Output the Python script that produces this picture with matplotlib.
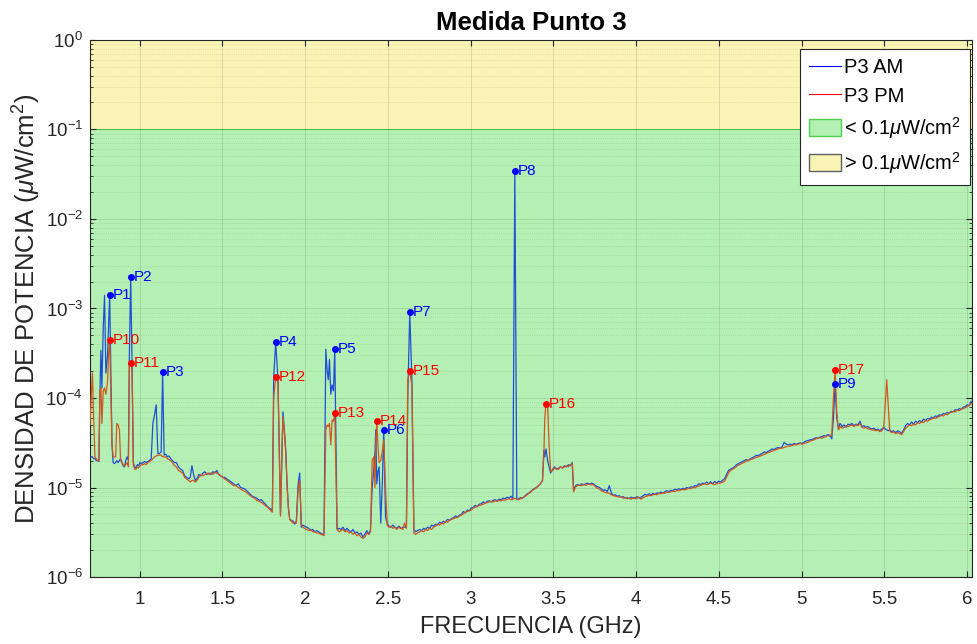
import matplotlib
matplotlib.use("Agg")
import matplotlib.pyplot as plt
from matplotlib.lines import Line2D
from matplotlib.patches import Patch
from matplotlib.ticker import LogLocator, NullFormatter

plt.rcParams["font.family"] = ["Liberation Sans", "DejaVu Sans"]
plt.rcParams["mathtext.fontset"] = "custom"
plt.rcParams["mathtext.rm"] = "Liberation Sans"
plt.rcParams["mathtext.it"] = "Liberation Sans:italic"

# frequency grid (GHz) and power density (uW/cm2)
FREQ = [
    0.700, 0.707, 0.715, 0.722, 0.730, 0.738, 0.746, 0.754,
    0.760, 0.766, 0.772, 0.780, 0.788, 0.796, 0.806, 0.812,
    0.819, 0.826, 0.833, 0.840, 0.848, 0.855, 0.862, 0.870,
    0.878, 0.885, 0.893, 0.900, 0.908, 0.916, 0.924, 0.932,
    0.938, 0.946, 0.954, 0.962, 0.970, 0.978, 0.986, 0.994,
    1.002, 1.010, 1.020, 1.030, 1.040, 1.050, 1.060, 1.070,
    1.080, 1.090, 1.100, 1.110, 1.120, 1.130, 1.139, 1.148,
    1.158, 1.168, 1.178, 1.188, 1.198, 1.210, 1.222, 1.235,
    1.248, 1.260, 1.272, 1.284, 1.296, 1.306, 1.316, 1.326,
    1.336, 1.346, 1.358, 1.370, 1.382, 1.394, 1.406, 1.418,
    1.430, 1.442, 1.454, 1.466, 1.478, 1.490, 1.502, 1.514,
    1.526, 1.540, 1.554, 1.568, 1.582, 1.596, 1.610, 1.624,
    1.638, 1.652, 1.666, 1.680, 1.694, 1.708, 1.722, 1.736,
    1.750, 1.764, 1.778, 1.790, 1.802, 1.810, 1.822, 1.836,
    1.851, 1.866, 1.876, 1.883, 1.891, 1.899, 1.907, 1.917,
    1.927, 1.937, 1.947, 1.957, 1.967, 1.977, 1.987, 1.997,
    2.010, 2.022, 2.034, 2.046, 2.058, 2.070, 2.082, 2.094,
    2.106, 2.114, 2.125, 2.133, 2.140, 2.147, 2.155, 2.163,
    2.171, 2.179, 2.193, 2.205, 2.217, 2.229, 2.241, 2.253,
    2.265, 2.277, 2.289, 2.301, 2.313, 2.325, 2.337, 2.349,
    2.361, 2.373, 2.385, 2.395, 2.405, 2.415, 2.422, 2.427,
    2.433, 2.440, 2.447, 2.457, 2.467, 2.475, 2.486, 2.496,
    2.506, 2.518, 2.530, 2.542, 2.554, 2.566, 2.578, 2.590,
    2.600, 2.612, 2.620, 2.632, 2.645, 2.657, 2.667, 2.680,
    2.692, 2.704, 2.716, 2.728, 2.740, 2.752, 2.764, 2.776,
    2.788, 2.800, 2.812, 2.824, 2.836, 2.848, 2.860, 2.872,
    2.884, 2.896, 2.908, 2.920, 2.932, 2.944, 2.956, 2.968,
    2.980, 2.992, 3.004, 3.016, 3.028, 3.040, 3.052, 3.064,
    3.076, 3.088, 3.100, 3.112, 3.124, 3.136, 3.148, 3.160,
    3.172, 3.184, 3.196, 3.208, 3.220, 3.232, 3.244, 3.255,
    3.267, 3.279, 3.290, 3.302, 3.314, 3.326, 3.338, 3.350,
    3.362, 3.374, 3.386, 3.398, 3.410, 3.422, 3.434, 3.442,
    3.448, 3.455, 3.465, 3.474, 3.483, 3.495, 3.507, 3.519,
    3.531, 3.543, 3.555, 3.567, 3.579, 3.591, 3.603, 3.614,
    3.622, 3.634, 3.646, 3.658, 3.670, 3.682, 3.694, 3.706,
    3.718, 3.730, 3.742, 3.754, 3.766, 3.778, 3.790, 3.802,
    3.814, 3.826, 3.838, 3.850, 3.862, 3.874, 3.886, 3.898,
    3.910, 3.922, 3.934, 3.946, 3.958, 3.970, 3.982, 3.994,
    4.006, 4.018, 4.030, 4.042, 4.054, 4.066, 4.078, 4.090,
    4.102, 4.114, 4.126, 4.138, 4.150, 4.162, 4.174, 4.186,
    4.198, 4.210, 4.222, 4.234, 4.246, 4.258, 4.270, 4.282,
    4.294, 4.306, 4.318, 4.330, 4.342, 4.354, 4.366, 4.378,
    4.390, 4.402, 4.414, 4.426, 4.438, 4.450, 4.462, 4.474,
    4.486, 4.498, 4.510, 4.522, 4.534, 4.546, 4.558, 4.570,
    4.582, 4.594, 4.606, 4.618, 4.630, 4.642, 4.654, 4.666,
    4.678, 4.690, 4.702, 4.714, 4.726, 4.738, 4.750, 4.762,
    4.774, 4.786, 4.798, 4.810, 4.822, 4.834, 4.846, 4.858,
    4.870, 4.882, 4.894, 4.906, 4.918, 4.930, 4.942, 4.954,
    4.966, 4.978, 4.990, 5.002, 5.014, 5.026, 5.038, 5.050,
    5.062, 5.074, 5.086, 5.098, 5.110, 5.122, 5.134, 5.146,
    5.158, 5.170, 5.182, 5.192, 5.202, 5.212, 5.222, 5.232,
    5.244, 5.256, 5.268, 5.280, 5.292, 5.304, 5.316, 5.328,
    5.340, 5.352, 5.364, 5.376, 5.388, 5.400, 5.412, 5.424,
    5.436, 5.448, 5.460, 5.472, 5.484, 5.496, 5.506, 5.514,
    5.522, 5.532, 5.544, 5.556, 5.568, 5.580, 5.592, 5.604,
    5.616, 5.628, 5.640, 5.652, 5.664, 5.676, 5.688, 5.700,
    5.712, 5.724, 5.736, 5.748, 5.760, 5.772, 5.784, 5.796,
    5.808, 5.820, 5.832, 5.844, 5.856, 5.868, 5.880, 5.892,
    5.904, 5.916, 5.928, 5.940, 5.952, 5.964, 5.976, 5.988,
    6.000, 6.012, 6.024,
]

P3_AM = [
    2.3e-5, 2.2e-5, 2.2e-5, 2.1e-5, 2.1e-5, 2.0e-5, 2.0e-5, 1.95e-5,
    1.1e-4, 3.4e-4, 1.3e-4, 6.0e-4, 1.4e-3, 1.9e-4, 3.0e-4, 6.0e-4,
    1.42e-3, 2.0e-4, 3.0e-5, 1.9e-5, 1.85e-5, 1.9e-5, 2.0e-5, 1.9e-5,
    2.0e-5, 2.1e-5, 1.9e-5, 1.75e-5, 1.7e-5, 2.0e-5, 2.2e-5, 2.0e-5,
    3.0e-4, 2.25e-3, 2.6e-4, 1.9e-5, 1.7e-5, 1.65e-5, 1.8e-5, 1.75e-5,
    1.9e-5, 1.85e-5, 1.9e-5, 1.95e-5, 1.9e-5, 1.95e-5, 2.0e-5, 2.1e-5,
    5.2e-5, 6.5e-5, 8.4e-5, 2.4e-5, 2.4e-5, 2.5e-5, 1.95e-4, 2.3e-5,
    2.35e-5, 2.2e-5, 2.25e-5, 2.1e-5, 2.0e-5, 1.9e-5, 1.9e-5, 1.7e-5,
    1.6e-5, 1.55e-5, 1.35e-5, 1.3e-5, 1.25e-5, 1.3e-5, 1.75e-5, 1.4e-5,
    1.2e-5, 1.25e-5, 1.4e-5, 1.35e-5, 1.45e-5, 1.5e-5, 1.4e-5, 1.45e-5,
    1.4e-5, 1.5e-5, 1.45e-5, 1.55e-5, 1.4e-5, 1.35e-5, 1.3e-5, 1.3e-5,
    1.25e-5, 1.2e-5, 1.15e-5, 1.1e-5, 1.05e-5, 1.1e-5, 1.0e-5, 9.8e-6,
    9.6e-6, 9.0e-6, 8.5e-6, 8.0e-6, 7.8e-6, 7.6e-6, 7.2e-6, 7.3e-6,
    6.8e-6, 6.4e-6, 6.0e-6, 5.8e-6, 5.5e-6, 1.7e-4, 4.2e-4, 1.6e-4,
    5.0e-6, 7.0e-5, 4.0e-5, 2.6e-5, 1.1e-5, 6.0e-6, 4.4e-6, 4.3e-6,
    4.2e-6, 3.9e-6, 4.2e-6, 1.05e-5, 1.45e-5, 3.6e-6, 3.8e-6, 3.7e-6,
    3.6e-6, 3.5e-6, 3.3e-6, 3.4e-6, 3.2e-6, 3.3e-6, 3.2e-6, 3.1e-6,
    3.0e-6, 3.0e-6, 3.5e-4, 2.0e-4, 1.6e-4, 2.7e-4, 1.1e-4, 1.4e-4,
    1.2e-4, 3.52e-4, 3.4e-6, 3.5e-6, 3.4e-6, 3.6e-6, 3.3e-6, 3.5e-6,
    3.3e-6, 3.2e-6, 3.4e-6, 3.1e-6, 3.2e-6, 3.0e-6, 3.1e-6, 2.8e-6,
    3.0e-6, 3.3e-6, 3.0e-6, 3.4e-6, 1.0e-5, 1.6e-5, 2.5e-5, 4.4e-5,
    1.1e-5, 1.5e-5, 1.7e-5, 4.0e-6, 1.2e-5, 4.4e-5, 4.6e-6, 4.0e-6,
    3.7e-6, 3.6e-6, 3.8e-6, 3.6e-6, 3.5e-6, 3.7e-6, 3.5e-6, 3.6e-6,
    3.6e-6, 3.6e-6, 1.0e-4, 9.1e-4, 1.6e-4, 3.4e-6, 3.2e-6, 3.3e-6,
    3.4e-6, 3.3e-6, 3.5e-6, 3.4e-6, 3.6e-6, 3.5e-6, 3.8e-6, 3.7e-6,
    3.9e-6, 3.8e-6, 4.1e-6, 4.0e-6, 4.2e-6, 4.1e-6, 4.4e-6, 4.3e-6,
    4.5e-6, 4.6e-6, 4.8e-6, 4.7e-6, 4.9e-6, 5.0e-6, 5.4e-6, 5.2e-6,
    5.6e-6, 5.5e-6, 5.9e-6, 6.0e-6, 6.3e-6, 6.1e-6, 6.5e-6, 6.6e-6,
    6.9e-6, 6.7e-6, 7.0e-6, 7.1e-6, 6.9e-6, 7.2e-6, 7.3e-6, 7.1e-6,
    7.4e-6, 7.3e-6, 7.6e-6, 7.5e-6, 7.8e-6, 7.6e-6, 8.0e-6, 7.4e-6,
    3.44e-2, 7.3e-6, 7.5e-6, 7.7e-6, 7.6e-6, 8.0e-6, 8.4e-6, 8.6e-6,
    9.0e-6, 9.4e-6, 9.8e-6, 1.0e-5, 1.05e-5, 1.1e-5, 1.2e-5, 2.6e-5,
    2.2e-5, 2.7e-5, 2.0e-5, 1.7e-5, 1.45e-5, 1.6e-5, 1.7e-5, 1.6e-5,
    1.65e-5, 1.7e-5, 1.65e-5, 1.75e-5, 1.7e-5, 1.8e-5, 1.75e-5, 1.9e-5,
    9.2e-6, 1.05e-5, 1.08e-5, 1.05e-5, 1.1e-5, 1.07e-5, 1.1e-5, 1.12e-5,
    1.08e-5, 1.12e-5, 1.1e-5, 1.05e-5, 1.02e-5, 1.0e-5, 9.6e-6, 9.3e-6,
    9.4e-6, 9.0e-6, 1.05e-5, 8.7e-6, 8.2e-6, 8.3e-6, 8.0e-6, 8.1e-6,
    7.8e-6, 7.9e-6, 7.6e-6, 7.7e-6, 7.5e-6, 7.8e-6, 7.6e-6, 7.7e-6,
    7.9e-6, 7.6e-6, 7.8e-6, 8.1e-6, 8.4e-6, 8.2e-6, 8.5e-6, 8.3e-6,
    8.6e-6, 8.4e-6, 8.7e-6, 8.6e-6, 8.9e-6, 8.7e-6, 9.0e-6, 9.2e-6,
    9.0e-6, 9.3e-6, 9.2e-6, 9.6e-6, 9.4e-6, 9.7e-6, 9.5e-6, 9.8e-6,
    9.6e-6, 1.0e-5, 9.8e-6, 1.02e-5, 1.0e-5, 1.05e-5, 1.04e-5, 1.1e-5,
    1.08e-5, 1.12e-5, 1.1e-5, 1.15e-5, 1.1e-5, 1.16e-5, 1.1e-5, 1.17e-5,
    1.12e-5, 1.18e-5, 1.15e-5, 1.2e-5, 1.25e-5, 1.4e-5, 1.55e-5, 1.6e-5,
    1.65e-5, 1.7e-5, 1.8e-5, 1.85e-5, 1.9e-5, 1.95e-5, 2.0e-5, 2.05e-5,
    2.0e-5, 2.1e-5, 2.15e-5, 2.2e-5, 2.3e-5, 2.25e-5, 2.35e-5, 2.4e-5,
    2.5e-5, 2.45e-5, 2.55e-5, 2.6e-5, 2.7e-5, 2.65e-5, 2.75e-5, 2.8e-5,
    2.75e-5, 2.85e-5, 3.2e-5, 3.05e-5, 3.0e-5, 3.05e-5, 3.0e-5, 3.1e-5,
    3.05e-5, 3.1e-5, 3.15e-5, 3.1e-5, 3.2e-5, 3.3e-5, 3.35e-5, 3.4e-5,
    3.45e-5, 3.5e-5, 3.6e-5, 3.55e-5, 3.65e-5, 3.7e-5, 3.8e-5, 3.75e-5,
    3.9e-5, 3.85e-5, 3.5e-5, 6.0e-5, 1.43e-4, 6.0e-5, 4.6e-5, 5.2e-5,
    4.8e-5, 5.0e-5, 4.7e-5, 5.1e-5, 5.0e-5, 5.2e-5, 4.9e-5, 5.1e-5,
    5.0e-5, 5.5e-5, 4.8e-5, 4.9e-5, 4.7e-5, 4.8e-5, 4.6e-5, 4.5e-5,
    4.6e-5, 4.4e-5, 4.5e-5, 4.3e-5, 4.5e-5, 4.7e-5, 4.5e-5, 4.4e-5,
    4.3e-5, 4.4e-5, 4.2e-5, 4.3e-5, 4.1e-5, 4.3e-5, 4.2e-5, 4.0e-5,
    4.4e-5, 4.9e-5, 5.2e-5, 5.0e-5, 5.4e-5, 5.1e-5, 5.5e-5, 5.3e-5,
    5.6e-5, 5.4e-5, 5.8e-5, 5.6e-5, 5.9e-5, 5.8e-5, 6.1e-5, 6.0e-5,
    6.3e-5, 6.2e-5, 6.5e-5, 6.4e-5, 6.7e-5, 6.6e-5, 6.9e-5, 6.8e-5,
    7.1e-5, 7.0e-5, 7.4e-5, 7.3e-5, 7.6e-5, 7.5e-5, 7.9e-5, 8.0e-5,
    8.4e-5, 8.2e-5, 9.2e-5,
]

P3_PM = [
    5.0e-5, 1.0e-4, 1.9e-4, 6.0e-5, 2.2e-5, 2.1e-5, 2.0e-5, 2.0e-5,
    1.2e-4, 1.3e-4, 5.2e-5, 1.2e-4, 1.3e-4, 1.1e-4, 1.5e-4, 3.0e-4,
    4.45e-4, 1.2e-4, 3.0e-5, 2.2e-5, 2.2e-5, 2.2e-5, 5.2e-5, 5.0e-5,
    4.4e-5, 2.0e-5, 1.9e-5, 1.8e-5, 1.75e-5, 1.8e-5, 1.9e-5, 1.7e-5,
    2.3e-4, 2.46e-4, 2.0e-4, 1.8e-5, 1.6e-5, 1.6e-5, 1.7e-5, 1.65e-5,
    1.75e-5, 1.8e-5, 1.8e-5, 1.85e-5, 1.8e-5, 1.9e-5, 1.95e-5, 2.0e-5,
    2.1e-5, 2.2e-5, 2.25e-5, 2.3e-5, 2.3e-5, 2.3e-5, 2.2e-5, 2.2e-5,
    2.2e-5, 2.1e-5, 2.05e-5, 2.0e-5, 1.9e-5, 1.75e-5, 1.7e-5, 1.55e-5,
    1.5e-5, 1.45e-5, 1.3e-5, 1.25e-5, 1.2e-5, 1.15e-5, 1.2e-5, 1.2e-5,
    1.15e-5, 1.2e-5, 1.3e-5, 1.4e-5, 1.35e-5, 1.4e-5, 1.45e-5, 1.4e-5,
    1.45e-5, 1.4e-5, 1.5e-5, 1.45e-5, 1.4e-5, 1.35e-5, 1.3e-5, 1.25e-5,
    1.2e-5, 1.15e-5, 1.1e-5, 1.05e-5, 1.05e-5, 1.0e-5, 9.6e-6, 9.3e-6,
    9.0e-6, 8.6e-6, 8.2e-6, 7.8e-6, 7.6e-6, 7.2e-6, 7.0e-6, 6.8e-6,
    6.5e-6, 6.2e-6, 5.9e-6, 5.6e-6, 5.3e-6, 1.0e-4, 1.72e-4, 1.5e-4,
    4.8e-6, 6.2e-5, 3.8e-5, 2.4e-5, 1.0e-5, 5.8e-6, 4.4e-6, 4.2e-6,
    4.0e-6, 4.1e-6, 4.0e-6, 9.0e-6, 1.2e-5, 3.8e-6, 3.6e-6, 3.5e-6,
    3.4e-6, 3.3e-6, 3.4e-6, 3.2e-6, 3.2e-6, 3.1e-6, 3.1e-6, 3.0e-6,
    2.95e-6, 2.9e-6, 4.4e-5, 5.0e-5, 4.8e-5, 5.2e-5, 3.0e-5, 5.7e-5,
    5.5e-5, 6.8e-5, 3.4e-6, 3.2e-6, 3.3e-6, 3.4e-6, 3.2e-6, 3.3e-6,
    3.1e-6, 3.2e-6, 3.0e-6, 3.1e-6, 2.9e-6, 3.0e-6, 2.8e-6, 2.7e-6,
    2.8e-6, 3.1e-6, 3.0e-6, 3.2e-6, 2.0e-5, 2.2e-5, 1.0e-5, 3.0e-5,
    5.5e-5, 3.0e-5, 1.9e-5, 2.0e-5, 2.6e-5, 3.4e-5, 9.5e-6, 3.8e-6,
    3.6e-6, 3.7e-6, 3.5e-6, 3.6e-6, 3.4e-6, 3.6e-6, 3.5e-6, 3.4e-6,
    4.0e-6, 3.5e-6, 1.6e-4, 2.0e-4, 1.35e-4, 3.1e-6, 3.0e-6, 3.1e-6,
    3.2e-6, 3.3e-6, 3.2e-6, 3.4e-6, 3.3e-6, 3.5e-6, 3.4e-6, 3.6e-6,
    3.7e-6, 3.9e-6, 3.8e-6, 4.0e-6, 3.9e-6, 4.2e-6, 4.1e-6, 4.3e-6,
    4.4e-6, 4.5e-6, 4.6e-6, 4.6e-6, 4.8e-6, 4.9e-6, 5.1e-6, 5.3e-6,
    5.4e-6, 5.5e-6, 5.6e-6, 5.9e-6, 6.0e-6, 6.2e-6, 6.3e-6, 6.4e-6,
    6.5e-6, 6.7e-6, 6.8e-6, 6.9e-6, 7.0e-6, 6.9e-6, 7.1e-6, 7.0e-6,
    7.2e-6, 7.1e-6, 7.3e-6, 7.2e-6, 7.4e-6, 7.5e-6, 7.3e-6, 7.4e-6,
    7.6e-6, 7.4e-6, 7.3e-6, 7.5e-6, 7.7e-6, 7.9e-6, 8.2e-6, 8.6e-6,
    8.8e-6, 9.3e-6, 9.6e-6, 1.0e-5, 1.05e-5, 1.1e-5, 1.2e-5, 2.2e-5,
    6.0e-5, 8.6e-5, 8.4e-5, 3.0e-5, 1.5e-5, 1.55e-5, 1.65e-5, 1.6e-5,
    1.6e-5, 1.7e-5, 1.65e-5, 1.7e-5, 1.75e-5, 1.7e-5, 1.8e-5, 1.85e-5,
    9.0e-6, 1.02e-5, 1.05e-5, 1.06e-5, 1.05e-5, 1.08e-5, 1.06e-5, 1.08e-5,
    1.1e-5, 1.07e-5, 1.08e-5, 1.02e-5, 9.8e-6, 9.6e-6, 9.2e-6, 9.0e-6,
    8.8e-6, 8.7e-6, 8.6e-6, 8.3e-6, 8.1e-6, 8.0e-6, 7.9e-6, 7.8e-6,
    7.9e-6, 7.6e-6, 7.7e-6, 7.5e-6, 7.6e-6, 7.4e-6, 7.7e-6, 7.5e-6,
    7.6e-6, 7.8e-6, 7.4e-6, 7.7e-6, 7.9e-6, 8.0e-6, 8.2e-6, 8.1e-6,
    8.3e-6, 8.4e-6, 8.3e-6, 8.6e-6, 8.5e-6, 8.7e-6, 8.6e-6, 8.9e-6,
    8.8e-6, 9.0e-6, 9.1e-6, 9.0e-6, 9.3e-6, 9.2e-6, 9.4e-6, 9.5e-6,
    9.4e-6, 9.6e-6, 9.8e-6, 9.7e-6, 1.0e-5, 9.9e-6, 1.02e-5, 1.04e-5,
    1.06e-5, 1.08e-5, 1.1e-5, 1.08e-5, 1.1e-5, 1.12e-5, 1.1e-5, 1.08e-5,
    1.1e-5, 1.12e-5, 1.12e-5, 1.14e-5, 1.18e-5, 1.3e-5, 1.45e-5, 1.55e-5,
    1.6e-5, 1.65e-5, 1.72e-5, 1.78e-5, 1.82e-5, 1.88e-5, 1.92e-5, 1.98e-5,
    2.0e-5, 2.05e-5, 2.08e-5, 2.12e-5, 2.18e-5, 2.2e-5, 2.25e-5, 2.3e-5,
    2.35e-5, 2.4e-5, 2.45e-5, 2.5e-5, 2.55e-5, 2.6e-5, 2.65e-5, 2.7e-5,
    2.75e-5, 2.75e-5, 2.8e-5, 2.85e-5, 2.9e-5, 2.9e-5, 2.95e-5, 3.0e-5,
    3.0e-5, 3.05e-5, 3.1e-5, 3.05e-5, 3.1e-5, 3.15e-5, 3.2e-5, 3.3e-5,
    3.35e-5, 3.4e-5, 3.5e-5, 3.55e-5, 3.6e-5, 3.55e-5, 3.65e-5, 3.7e-5,
    3.8e-5, 3.75e-5, 3.9e-5, 1.0e-4, 2.06e-4, 7.0e-5, 4.4e-5, 4.8e-5,
    4.6e-5, 4.7e-5, 4.9e-5, 4.8e-5, 4.9e-5, 5.0e-5, 4.8e-5, 5.0e-5,
    4.9e-5, 5.2e-5, 4.7e-5, 4.6e-5, 4.7e-5, 4.5e-5, 4.5e-5, 4.4e-5,
    4.4e-5, 4.3e-5, 4.4e-5, 4.2e-5, 4.3e-5, 4.6e-5, 9.0e-5, 1.6e-4,
    9.0e-5, 4.3e-5, 4.1e-5, 4.2e-5, 4.0e-5, 4.1e-5, 4.0e-5, 3.9e-5,
    4.2e-5, 4.6e-5, 4.8e-5, 5.0e-5, 4.9e-5, 5.1e-5, 5.0e-5, 5.3e-5,
    5.2e-5, 5.4e-5, 5.3e-5, 5.6e-5, 5.5e-5, 5.7e-5, 5.8e-5, 6.0e-5,
    5.9e-5, 6.1e-5, 6.2e-5, 6.4e-5, 6.3e-5, 6.6e-5, 6.5e-5, 6.8e-5,
    6.9e-5, 7.1e-5, 7.0e-5, 7.3e-5, 7.2e-5, 7.5e-5, 7.6e-5, 7.8e-5,
    8.0e-5, 8.3e-5, 8.6e-5,
]

# labelled peaks
AM_PEAK_NAMES = ["P1", "P2", "P3", "P4", "P5", "P6", "P7", "P8", "P9"]
AM_PEAK_FREQ = [0.819, 0.946, 1.139, 1.822, 2.179, 2.475, 2.632, 3.267, 5.202]
AM_PEAK_VAL = [1.42e-3, 2.25e-3, 1.95e-4, 4.2e-4, 3.52e-4, 4.4e-5, 9.1e-4, 3.44e-2, 1.43e-4]

PM_PEAK_NAMES = ["P10", "P11", "P12", "P13", "P14", "P15", "P16", "P17"]
PM_PEAK_FREQ = [0.819, 0.946, 1.822, 2.179, 2.433, 2.632, 3.455, 5.202]
PM_PEAK_VAL = [4.45e-4, 2.46e-4, 1.72e-4, 6.8e-5, 5.5e-5, 2.0e-4, 8.6e-5, 2.06e-4]

LIMIT = 0.1  # uW/cm2
Y_MIN, Y_MAX = 1e-6, 1e0

fig = plt.figure(figsize=(9.78, 6.44), dpi=100)
ax = fig.add_axes([0.092, 0.104, 0.902, 0.834])

ax.axhspan(Y_MIN, LIMIT, facecolor="#b4f0b4", edgecolor="#4fd04f", lw=0.8, zorder=0)
ax.axhspan(LIMIT, Y_MAX, facecolor="#f8f4b4", edgecolor="none", zorder=0)

ax.plot(FREQ, P3_AM, color="#1f4fd6", lw=0.9, zorder=2)
ax.plot(FREQ, P3_PM, color="#d2561c", lw=0.9, zorder=3)

ax.plot(AM_PEAK_FREQ, AM_PEAK_VAL, "o", color="#0000ff", ms=4, zorder=4)
ax.plot(PM_PEAK_FREQ, PM_PEAK_VAL, "o", color="#ff0000", ms=4, zorder=4)
for name, f, v in zip(AM_PEAK_NAMES, AM_PEAK_FREQ, AM_PEAK_VAL):
    ax.annotate(name, (f, v), xytext=(2, 0), textcoords="offset points",
                va="center", ha="left", color="#0000ff", fontsize=11, zorder=5)
for name, f, v in zip(PM_PEAK_NAMES, PM_PEAK_FREQ, PM_PEAK_VAL):
    ax.annotate(name, (f, v), xytext=(2, 0), textcoords="offset points",
                va="center", ha="left", color="#ff0000", fontsize=11, zorder=5)

ax.set_yscale("log")
ax.set_xlim(0.7, 6.03)
ax.set_ylim(Y_MIN, Y_MAX)
ax.set_xticks([1, 1.5, 2, 2.5, 3, 3.5, 4, 4.5, 5, 5.5, 6])
ax.set_xticklabels(["1", "1.5", "2", "2.5", "3", "3.5", "4", "4.5", "5", "5.5", "6"])
ax.yaxis.set_major_locator(LogLocator(base=10, numticks=10))
ax.yaxis.set_minor_locator(LogLocator(base=10, subs=range(2, 10), numticks=100))
ax.yaxis.set_minor_formatter(NullFormatter())

ax.grid(True, which="major", color="#262626", alpha=0.15, lw=0.6)
ax.grid(True, which="minor", axis="y", color="#262626", alpha=0.15, lw=0.6, ls=":")
ax.tick_params(which="both", direction="in", top=True, right=True, colors="#262626",
               labelsize=13.5, labelcolor="#262626")
ax.tick_params(which="major", length=4)
ax.tick_params(which="minor", length=2)
ax.tick_params(axis="x", pad=10)
ax.tick_params(axis="y", pad=5)
for s in ax.spines.values():
    s.set_color("#262626")
    s.set_linewidth(0.8)

ax.set_title("Medida Punto 3", fontsize=18.5, fontweight="bold", pad=7)
ax.set_xlabel("FRECUENCIA (GHz)", fontsize=17, color="#262626", labelpad=6)
ax.set_ylabel(r"DENSIDAD DE POTENCIA ($\mu$W/cm$^2$)", fontsize=18.5, color="#262626",
              labelpad=2)

handles = [
    Line2D([], [], color="#0000ff", lw=0.8),
    Line2D([], [], color="#ff0000", lw=0.8),
    Patch(facecolor="#b4f0b4", edgecolor="#4fd04f"),
    Patch(facecolor="#f8f4b4", edgecolor="#606060"),
]
labels = ["P3 AM", "P3 PM", r"< 0.1$\mu$W/cm$^2$", r"> 0.1$\mu$W/cm$^2$"]
leg = ax.legend(handles, labels, loc="upper right", bbox_to_anchor=(0.998, 0.983),
                borderaxespad=0, fontsize=14.5, fancybox=False, framealpha=1,
                edgecolor="#262626", handlelength=1.6, handleheight=0.9,
                handletextpad=0.15, borderpad=0.45, labelspacing=0.45)
leg.get_frame().set_linewidth(0.8)

fig.savefig("out.png", dpi=100)
